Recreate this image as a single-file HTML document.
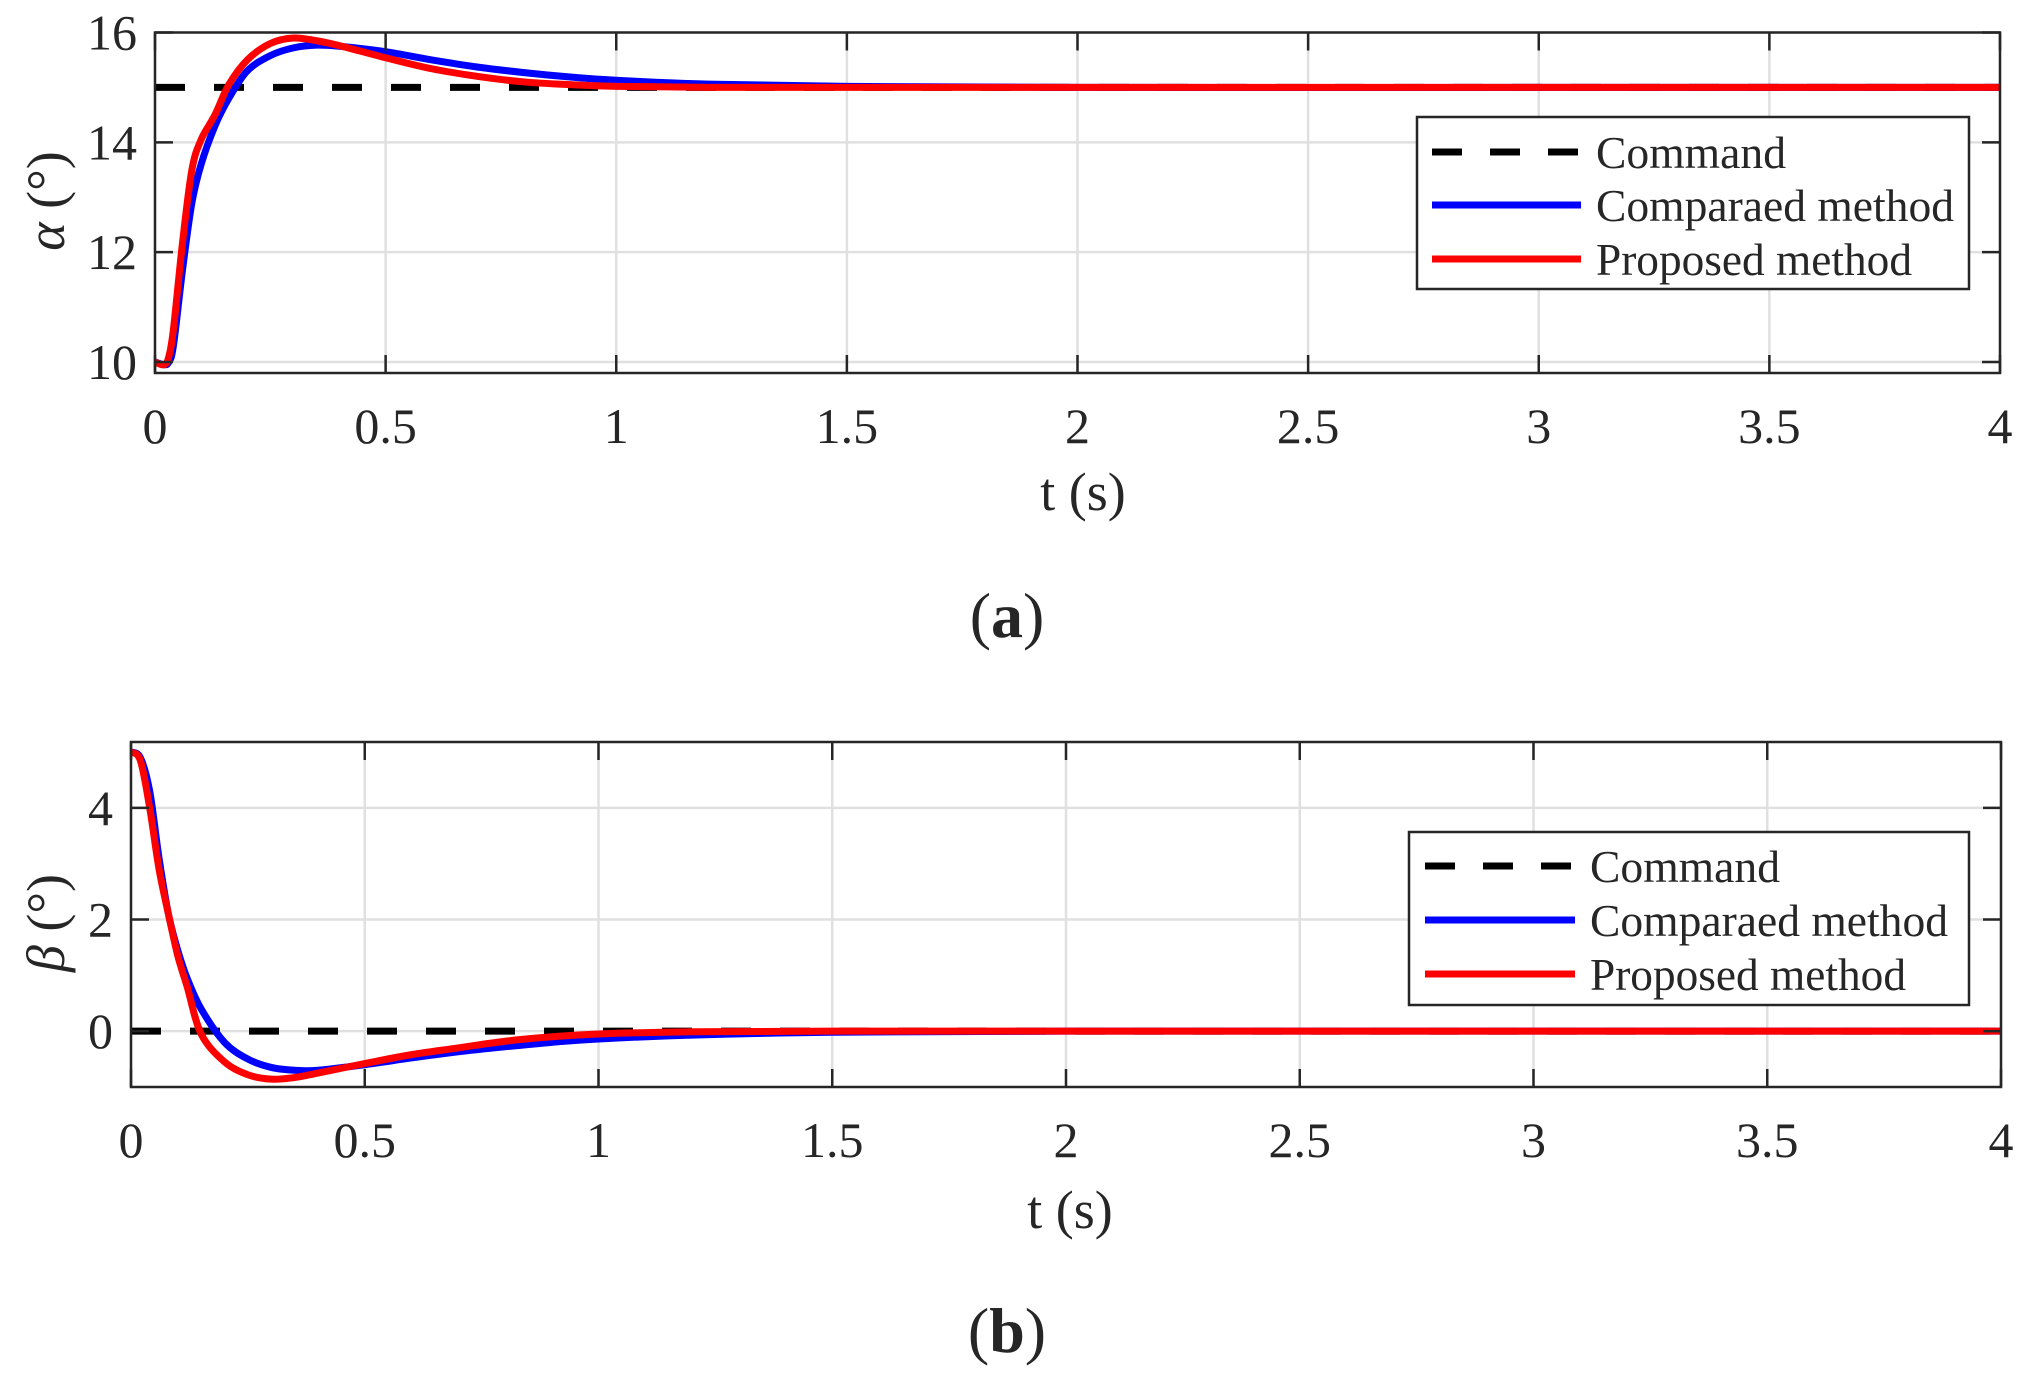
<!DOCTYPE html>
<html><head><meta charset="utf-8"><style>
html,body{margin:0;padding:0;background:#fff}
svg{display:block}
text{font-family:"Liberation Serif","DejaVu Serif",serif;fill:#262626}
</style></head><body>
<svg id="fig" width="2028" height="1378" viewBox="0 0 2028 1378" xmlns="http://www.w3.org/2000/svg"></svg>
<script>
const xTicks=[0,0.5,1,1.5,2,2.5,3,3.5,4];
const xTickLabels=["0","0.5","1","1.5","2","2.5","3","3.5","4"];
const aTicks=[10,12,14,16];
const bTicks=[0,2,4];
const aTime=[0,0.02,0.03,0.04,0.06,0.08,0.1,0.13,0.16,0.2,0.25,0.3,0.35,0.4,0.5,0.6,0.7,0.8,0.9,1.0,1.2,1.5,2,3,4];
const aCommand=[15,15];
const aCompared=[10,9.95,10.0,10.3,11.7,12.9,13.6,14.3,14.8,15.3,15.58,15.72,15.77,15.75,15.65,15.5,15.37,15.27,15.19,15.13,15.06,15.02,15,15,15];
const aProposed=[10,9.95,10.1,10.6,12.2,13.5,14.05,14.5,15.05,15.5,15.8,15.9,15.85,15.76,15.54,15.34,15.2,15.1,15.05,15.02,15.0,15,15,15,15];
const bTime=[0,0.02,0.04,0.06,0.08,0.1,0.12,0.15,0.2,0.25,0.3,0.35,0.4,0.5,0.6,0.7,0.8,0.9,1.0,1.2,1.5,2,3,4];
const bCommand=[0,0];
const bCompared=[5.0,4.9,4.3,3.1,2.1,1.45,0.95,0.4,-0.2,-0.5,-0.65,-0.7,-0.7,-0.6,-0.48,-0.37,-0.28,-0.2,-0.14,-0.07,-0.02,0,0,0];
const bProposed=[5.0,4.85,4.0,2.9,2.1,1.35,0.8,-0.05,-0.55,-0.78,-0.86,-0.83,-0.75,-0.58,-0.42,-0.3,-0.18,-0.1,-0.05,-0.01,0,0,0,0];

const NS="http://www.w3.org/2000/svg";
const svg=document.getElementById('fig');
function mk(tag,attrs,parent,txt){const e=document.createElementNS(NS,tag);for(const k in attrs)e.setAttribute(k,attrs[k]);if(txt!==undefined)e.textContent=txt;(parent||svg).appendChild(e);return e;}
function smooth(pts){let d="M"+pts[0][0]+","+pts[0][1];for(let i=0;i<pts.length-1;i++){const p0=pts[Math.max(0,i-1)],p1=pts[i],p2=pts[i+1],p3=pts[Math.min(pts.length-1,i+2)];const c1=[p1[0]+(p2[0]-p0[0])/6,p1[1]+(p2[1]-p0[1])/6],c2=[p2[0]-(p3[0]-p1[0])/6,p2[1]-(p3[1]-p1[1])/6];d+=" C"+c1[0].toFixed(2)+","+c1[1].toFixed(2)+" "+c2[0].toFixed(2)+","+c2[1].toFixed(2)+" "+p2[0].toFixed(2)+","+p2[1].toFixed(2);}return d;}

function panel(cfg){
  const g=mk('g',{});
  
  
  const X=v=>cfg.L+(v-0)/(4-0)*(cfg.R-cfg.L);
  const Y=v=>cfg.B-(v-cfg.ymin)/(cfg.ymax-cfg.ymin)*(cfg.B-cfg.T);
  xTicks.forEach(t=>{const l=mk('line',{x1:X(t),x2:X(t),y1:cfg.T,y2:cfg.B,stroke:'#e0e0e0','stroke-width':2.5},g);});
  cfg.yt.forEach(v=>{const l=mk('line',{x1:cfg.L,x2:cfg.R,y1:Y(v),y2:Y(v),stroke:'#e0e0e0','stroke-width':2.5},g);});
  const clip='clip'+cfg.name;
  const cp=mk('clipPath',{id:clip},g);mk('rect',{x:cfg.L,y:cfg.T,width:cfg.R-cfg.L,height:cfg.B-cfg.T},cp);
  const cmd=mk('line',{x1:X(0),x2:X(4),y1:Y(cfg.cmd[0]),y2:Y(cfg.cmd[1]),stroke:'#000','stroke-width':7,'stroke-dasharray':'30,29','clip-path':'url(#'+clip+')'},g);
  
  const pb=mk('path',{d:smooth(cfg.time.map((t,i)=>[X(t),Y(cfg.comp[i])])),fill:'none',stroke:'#0000ff','stroke-width':7,'stroke-linejoin':'round','stroke-linecap':'round','clip-path':'url(#'+clip+')'},g);
  
  const pr=mk('path',{d:smooth(cfg.time.map((t,i)=>[X(t),Y(cfg.prop[i])])),fill:'none',stroke:'#ff0000','stroke-width':7,'stroke-linejoin':'round','stroke-linecap':'round','clip-path':'url(#'+clip+')'},g);
  
  const box=mk('rect',{x:cfg.L,y:cfg.T,width:cfg.R-cfg.L,height:cfg.B-cfg.T,fill:'none',stroke:'#262626','stroke-width':2.5},g);
  
  xTicks.forEach((t,i)=>{
    mk('line',{x1:X(t),x2:X(t),y1:cfg.B,y2:cfg.B-18,stroke:'#262626','stroke-width':2.5},g);
    mk('line',{x1:X(t),x2:X(t),y1:cfg.T,y2:cfg.T+18,stroke:'#262626','stroke-width':2.5},g);
    const tx=mk('text',{x:X(t),y:cfg.B+70,'font-size':50,'text-anchor':'middle'},g,xTickLabels[i]);
    
  });
  cfg.yt.forEach(v=>{
    mk('line',{x1:cfg.L,x2:cfg.L+18,y1:Y(v),y2:Y(v),stroke:'#262626','stroke-width':2.5},g);
    mk('line',{x1:cfg.R,x2:cfg.R-18,y1:Y(v),y2:Y(v),stroke:'#262626','stroke-width':2.5},g);
    const ty=mk('text',{x:cfg.L-18,y:Y(v)+17,'font-size':50,'text-anchor':'end'},g,String(v));
    
  });
  const xl=mk('text',{x:cfg.xlx,y:cfg.xly,'font-size':54,'text-anchor':'middle'},g,'t (s)');
  
  const yl=mk('text',{x:0,y:0,'font-size':54,'text-anchor':'middle',transform:'translate('+(cfg.ylx)+','+cfg.yly+') rotate(-90)'},g);
  
  mk('tspan',{'font-style':'italic'},yl,cfg.sym);mk('tspan',{},yl,' (°)');
  const cap=mk('text',{x:1007,y:cfg.capy,'font-size':64,'text-anchor':'middle','fill':'#000'},g);
  
  mk('tspan',{},cap,'(');mk('tspan',{'font-weight':'bold'},cap,cfg.cap);mk('tspan',{},cap,')');
  const lg=mk('g',{},g);
  mk('rect',{x:cfg.lg[0],y:cfg.lg[1],width:cfg.lg[2]-cfg.lg[0],height:cfg.lg[3]-cfg.lg[1],fill:'#fff',stroke:'#262626','stroke-width':2.5},lg);
  const entries=[['Command','#000','30,28'],['Comparaed method','#0000ff',''],['Proposed method','#ff0000','']];
  entries.forEach((e,i)=>{
    const y=cfg.rows[i];
    const en=mk('g',{},lg);
    const a={x1:cfg.lx[0],x2:cfg.lx[1],y1:y,y2:y,stroke:e[1],'stroke-width':7};if(e[2])a['stroke-dasharray']=e[2];
    mk('line',a,en);
    mk('text',{x:cfg.lx[2],y:y+16,'font-size':45,fill:'#000',textLength:cfg.tl[i],lengthAdjust:'spacingAndGlyphs'},en,e[0]);
  });
}
panel({name:'panel-a-alpha',L:155,R:2000,T:32.5,B:373,ymin:9.8,ymax:16,yt:aTicks,time:aTime,cmd:aCommand,comp:aCompared,prop:aProposed,
  xlx:1083,xly:510,ylx:64,yly:201,sym:'α',cap:'a',capy:637,lg:[1417,117,1969,289],rows:[152,205,259],lx:[1432,1581,1596],tl:[190,358,316]});
panel({name:'panel-b-beta',L:131,R:2001,T:742,B:1087,ymin:-1.0,ymax:5.18,yt:bTicks,time:bTime,cmd:bCommand,comp:bCompared,prop:bProposed,
  xlx:1070,xly:1228,ylx:64,yly:923,sym:'β',cap:'b',capy:1352,lg:[1409,832,1969,1005],rows:[866,920,974],lx:[1425,1575,1590],tl:[190,358,316]});
</script>
</body></html>
